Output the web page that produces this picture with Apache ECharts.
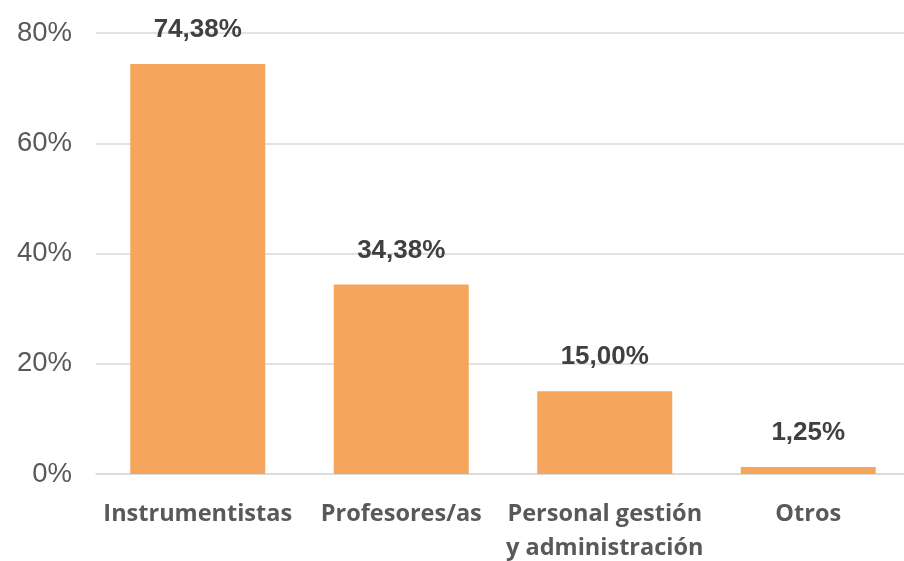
<!DOCTYPE html>
<html><head><meta charset="utf-8">
<script src="https://cdn.jsdelivr.net/npm/echarts@6/dist/echarts.min.js"></script>
<style>html,body{margin:0;padding:0;background:#fff}#c{width:904px;height:561px}</style>
</head><body><div id="c"></div>
<script>
const categories = ["Instrumentistas", "Profesores/as", "Personal gestión\ny administración", "Otros"];
const values = [74.38, 34.38, 15.00, 1.25];
const yTicks = [0, 20, 40, 60, 80];

const chart = echarts.init(document.getElementById('c'));
chart.setOption({
  animation: false,
  grid: { left: 96, width: 814, top: 33, height: 441, containLabel: false, outerBoundsMode: 'none' },
  xAxis: {
    type: 'category', data: categories,
    axisLine: { show: true, lineStyle: { color: '#d9d9d9', width: 1.5 } },
    axisTick: { show: false },
    axisLabel: { color: '#595959', fontFamily: 'Open Sans', fontWeight: 'bold', fontSize: 23.5, margin: 23, lineHeight: 34, interval: 0 }
  },
  yAxis: {
    type: 'value', min: 0, max: 80, interval: 20,
    axisLine: { show: false }, axisTick: { show: false },
    splitLine: { lineStyle: { color: '#d9d9d9', width: 1.5 } },
    axisLabel: { color: '#595959', fontFamily: 'Liberation Sans', fontSize: 27.5, margin: 24, formatter: v => yTicks.includes(v) ? v + '%' : '' }
  },
  series: [{
    type: 'bar', data: values, barWidth: 135,
    itemStyle: { color: '#F5A55C' },
    label: { show: true, position: 'top', distance: 21, color: '#404040', fontFamily: 'Liberation Sans', fontWeight: 'bold', fontSize: 26,
      formatter: p => p.value.toFixed(2).replace('.', ',') + '%' }
  }]
});
</script></body></html>
